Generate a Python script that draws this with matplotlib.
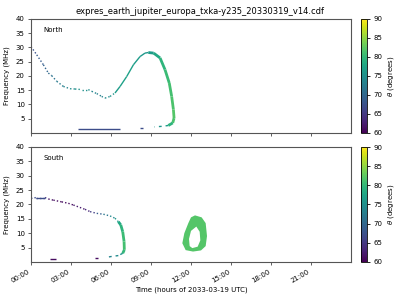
import numpy as np
import matplotlib
matplotlib.use("Agg")
import matplotlib.pyplot as plt
from matplotlib.collections import LineCollection
from matplotlib.patches import PathPatch
from matplotlib.path import Path
from matplotlib import cm, colors

# ---------------- DATA (hours, MHz, degrees) ----------------
north_arc_t = [0.0, 0.43, 0.93, 1.3, 1.55, 1.93, 2.43, 2.93, 3.3, 3.8, 4.3, 4.55, 4.93, 5.3, 5.55, 5.93, 6.3]
north_arc_f = [30.3, 27.4, 23.9, 21.0, 20.1, 18.1, 16.3, 15.5, 15.4, 15.2, 15.2, 14.6, 13.8, 12.8, 12.2, 12.8, 14.0]
north_arc_th = [67, 68, 69, 70, 71, 72, 73, 74, 75, 75, 75, 74, 73, 73, 74, 75, 76]

north_rise_t = [6.3, 6.68, 7.18, 7.68, 8.18, 8.55, 8.8]
north_rise_f = [14.0, 16.3, 19.8, 23.9, 26.8, 28.0, 28.2]
north_rise_th = [76, 77, 77, 77, 76, 76, 76]

north_fall_t = [8.8, 9.2, 9.68, 10.05, 10.37, 10.55, 10.68, 10.73, 10.63, 10.3]
north_fall_f = [28.2, 28.0, 26.3, 22.2, 17.5, 12.8, 8.2, 5.2, 3.5, 2.6]
north_fall_th = [76, 77, 79, 80, 81, 81, 82, 82, 81, 78]

north_tail_t = [10.3, 9.8, 9.25]
north_tail_f = [2.6, 2.3, 2.1]
north_tail_th = [77, 76, 75]

north_low_t = [[3.55, 6.68], [8.18, 8.4]]
north_low_f = [[1.4, 1.4], [1.75, 1.75]]
north_low_th = [[67, 67], [67, 67]]

south_head_t = [0.38, 1.05]
south_head_f = [22.4, 22.4]
south_head_th = [67, 67]

south_arc_t = [0.0, 0.38, 1.05, 1.3, 1.68, 2.3, 2.8, 3.18, 4.05, 4.43, 4.93, 5.43, 5.93, 6.3, 6.55]
south_arc_f = [22.1, 22.4, 22.4, 21.9, 21.5, 20.9, 20.4, 19.8, 18.3, 17.5, 16.9, 16.6, 16.0, 15.2, 14.0]
south_arc_th = [67, 67, 67, 62, 61, 61, 61, 61, 63, 64, 67, 71, 73, 75, 77]

south_fall_t = [6.55, 6.73, 6.88, 6.98, 7.0, 6.88]
south_fall_f = [14.0, 12.9, 10.5, 7.1, 4.2, 3.0]
south_fall_th = [77, 79, 80, 81, 81, 79]

south_tail_t = [6.88, 6.55, 6.05, 5.8]
south_tail_f = [3.0, 2.2, 1.9, 1.7]
south_tail_th = [76, 75, 74, 73]

south_low_t = [[1.43, 1.88], [4.8, 5.05]]
south_low_f = [[1.07, 1.07], [1.3, 1.3]]
south_low_th = [[61, 61], [61, 61]]

# oval source near 12h (outer ring and hole)
oval_out_t = [12.3, 12.8, 13.1, 13.2, 13.1, 12.75, 12.15, 11.6, 11.35, 11.5, 11.8, 12.0]
oval_out_f = [16.2, 15.5, 13.5, 9.0, 5.5, 4.0, 3.6, 4.1, 6.5, 10.0, 13.5, 15.5]
oval_in_t = [12.4, 12.65, 12.7, 12.5, 12.1, 11.9, 11.85, 12.0]
oval_in_f = [12.3, 10.5, 7.5, 5.3, 4.8, 5.5, 8.0, 10.8]
oval_th = 82

tick_hours = [0, 3, 6, 9, 12, 15, 18, 21]
tick_labels = ["00:00", "03:00", "06:00", "09:00", "12:00", "15:00", "18:00", "21:00"]

title = "expres_earth_jupiter_europa_txka-y235_20330319_v14.cdf"

# ---------------- HELPERS ----------------
cmap = plt.get_cmap("viridis")
norm = colors.Normalize(vmin=60, vmax=90)


def draw_track(ax, t, f, th, lw=1.0, ls="solid"):
    pts = np.column_stack([t, f])
    segs = np.stack([pts[:-1], pts[1:]], axis=1)
    th = np.asarray(th, dtype=float)
    c = cmap(norm((th[:-1] + th[1:]) / 2))
    lc = LineCollection(segs, colors=c, linewidths=lw, linestyles=ls, capstyle="butt")
    ax.add_collection(lc)


def style_axes(ax):
    ax.set_xlim(0, 24)
    ax.set_ylim(0, 40)
    ax.set_yticks([5, 10, 15, 20, 25, 30, 35, 40])
    ax.set_xticks(tick_hours)
    ax.set_ylabel("Frequency (MHz)", fontsize=5)
    ax.tick_params(labelsize=5, length=2.5, width=0.6, pad=2, color="#444444")
    for s in ax.spines.values():
        s.set_color("#555555")
        s.set_linewidth(0.8)


def add_cbar(fig, rect):
    cax = fig.add_axes(rect)
    sm = cm.ScalarMappable(norm=norm, cmap=cmap)
    cb = fig.colorbar(sm, cax=cax)
    cb.set_ticks([60, 65, 70, 75, 80, 85, 90])
    cb.ax.tick_params(labelsize=5, length=2.5, width=0.6, pad=2)
    cb.set_label(r"$\theta$ (degrees)", fontsize=5, labelpad=3)
    cb.outline.set_linewidth(0.6)


# ---------------- PLOT ----------------
fig = plt.figure(figsize=(4, 3), dpi=100)
fig.suptitle(title, fontsize=6, y=0.975)

ax1 = fig.add_axes([0.0775, 0.557, 0.8, 0.38])
ax2 = fig.add_axes([0.0775, 0.127, 0.8, 0.383])

# North
draw_track(ax1, north_arc_t, north_arc_f, north_arc_th, lw=1.0, ls=(0, (1, 1.5)))
draw_track(ax1, north_rise_t, north_rise_f, north_rise_th, lw=1.0)
draw_track(ax1, north_fall_t, north_fall_f, north_fall_th, lw=2.0)
draw_track(ax1, north_tail_t, north_tail_f, north_tail_th, lw=1.0, ls=(0, (2, 3)))
for t, f, th in zip(north_low_t, north_low_f, north_low_th):
    draw_track(ax1, t, f, th, lw=1.0)
ax1.text(0.04, 0.9, "North", transform=ax1.transAxes, fontsize=5, va="center")
style_axes(ax1)
ax1.set_xticklabels([])

# South
draw_track(ax2, south_arc_t, south_arc_f, south_arc_th, lw=1.0, ls=(0, (1, 1.5)))
draw_track(ax2, south_head_t, south_head_f, south_head_th, lw=1.0)
draw_track(ax2, south_fall_t, south_fall_f, south_fall_th, lw=2.0)
draw_track(ax2, south_tail_t, south_tail_f, south_tail_th, lw=1.0, ls=(0, (2, 3)))
for t, f, th in zip(south_low_t, south_low_f, south_low_th):
    draw_track(ax2, t, f, th, lw=1.0)

outer = list(zip(oval_out_t, oval_out_f))
inner = list(zip(oval_in_t, oval_in_f))[::-1]
verts = outer + [outer[0]] + inner + [inner[0]]
codes = ([Path.MOVETO] + [Path.LINETO] * (len(outer) - 1) + [Path.CLOSEPOLY]
         + [Path.MOVETO] + [Path.LINETO] * (len(inner) - 1) + [Path.CLOSEPOLY])
oval = PathPatch(Path(verts, codes), facecolor=cmap(norm(oval_th)), edgecolor="none")
ax2.add_patch(oval)

ax2.text(0.04, 0.9, "South", transform=ax2.transAxes, fontsize=5, va="center")
style_axes(ax2)
ax2.set_xticklabels(tick_labels, rotation=30, ha="right")
ax2.set_xlabel("Time (hours of 2033-03-19 UTC)", fontsize=5, labelpad=2)

add_cbar(fig, [0.9025, 0.557, 0.015, 0.38])
add_cbar(fig, [0.9025, 0.127, 0.015, 0.383])

fig.savefig("out.png", dpi=100)
